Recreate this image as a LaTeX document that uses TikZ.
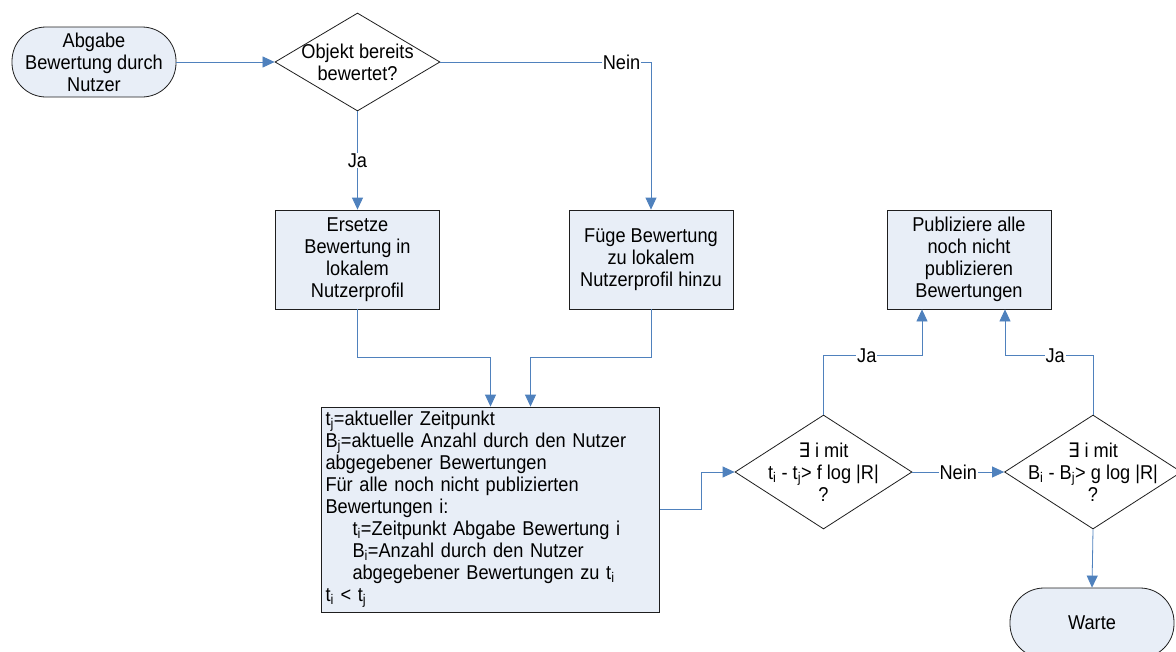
\documentclass[tikz,border=0pt]{standalone}
\usepackage{fontspec}
\setmainfont{Liberation Sans}[FakeStretch=0.91]
\newfontfamily\symf{DejaVu Sans}[FakeStretch=0.91]
\usetikzlibrary{shapes.geometric,arrows.meta,calc}
\definecolor{boxfill}{RGB}{232,238,247}
\definecolor{flow}{RGB}{79,129,189}
\definecolor{edge}{RGB}{30,30,30}
\begin{document}
\begin{tikzpicture}[x=1pt,y=-1pt,
  font=\fontsize{20}{22}\selectfont,
  every node/.style={text=black},
  terminal/.style={draw=edge,line width=0.8pt,fill=boxfill,rectangle,rounded corners=34pt,
    minimum width=164pt,minimum height=70pt,align=center,inner sep=0pt},
  procbox/.style={draw=edge,line width=0.8pt,fill=boxfill,rectangle,
    minimum width=164pt,minimum height=99pt,align=center,inner sep=0pt},
  decision/.style={draw=edge,line width=0.8pt,fill=white,diamond,inner sep=0pt},
  flowline/.style={draw=flow,line width=0.8pt},
  flowarrow/.style={flowline,-{Triangle[length=12pt,width=11pt]}},
  lbl/.style={fill=white,inner sep=1pt}]
\useasboundingbox (0,0) rectangle (1176,651);

% nodes
\node[terminal] (start) at (94,62) {Abgabe\\Bewertung durch\\Nutzer};
\node[decision,minimum width=165pt,minimum height=98pt,
  label={[align=center]center:Objekt bereits\\bewertet?}] (d1) at (357.5,62) {};
\node[procbox] (b1) at (357.5,259.5) {Ersetze\\Bewertung in\\lokalem\\Nutzerprofil};
\node[procbox] (b2) at (651,259.5) {Füge Bewertung\\zu lokalem\\Nutzerprofil hinzu};
\node[draw=edge,line width=0.8pt,fill=boxfill,rectangle,minimum width=338pt,minimum height=205pt,
  text width=330pt,inner sep=4pt,align=left] (big) at (490.5,509.5)
  {t\textsubscript{j}=aktueller Zeitpunkt\\
   B\textsubscript{j}=aktuelle Anzahl durch den Nutzer\\
   abgegebener Bewertungen\\
   Für alle noch nicht publizierten\\
   Bewertungen i:\\
   \hspace*{27pt}t\textsubscript{i}=Zeitpunkt Abgabe Bewertung i\\
   \hspace*{27pt}B\textsubscript{i}=Anzahl durch den Nutzer\\
   \hspace*{27pt}abgegebener Bewertungen zu t\textsubscript{i}\\
   t\textsubscript{i} < t\textsubscript{j}};
\node[decision,minimum width=177pt,minimum height=114pt,
  label={[align=center]center:{\symf ∃} i mit\\t\textsubscript{i} - t\textsubscript{j}> f log |R|\\?}] (d2) at (823.5,472) {};
\node[decision,minimum width=177pt,minimum height=114pt,
  label={[align=center]center:{\symf ∃} i mit\\B\textsubscript{i} - B\textsubscript{j}> g log |R|\\?}] (d3) at (1093,472) {};
\node[procbox] (b3) at (969,259.5) {Publiziere alle\\noch nicht\\publizieren\\Bewertungen};
\node[terminal] (wait) at (1092,623) {Warte};

% connectors
\draw[flowarrow] (start) -- (d1);
\draw[flowarrow] (d1.east) -- node[lbl,pos=0.86]{Nein} (d1.east -| b2.north) -- (b2.north);
\draw[flowarrow] (d1.south) -- node[lbl]{Ja} (b1.north);
\draw[flowarrow] (b1.south) -- ++(0,48) -| (big.north);
\draw[flowarrow] (b2.south) -- ++(0,48) -| ([xshift=40pt]big.north);
\draw[flowarrow] (big.east) -- ++(41,0) |- (d2.west);
\draw[flowarrow] (d2.north) -- ++(0,-59) -| node[lbl,pos=0.22]{Ja} ([xshift=-47pt]b3.south);
\draw[flowarrow] (d3.north) -- ++(0,-59) -| node[lbl,pos=0.215]{Ja} ([xshift=36pt]b3.south);
\draw[flowarrow] (d2.east) -- node[lbl]{Nein} (d3.west);
\draw[flowarrow] (d3.south) -- (wait.north);
\end{tikzpicture}
\end{document}
